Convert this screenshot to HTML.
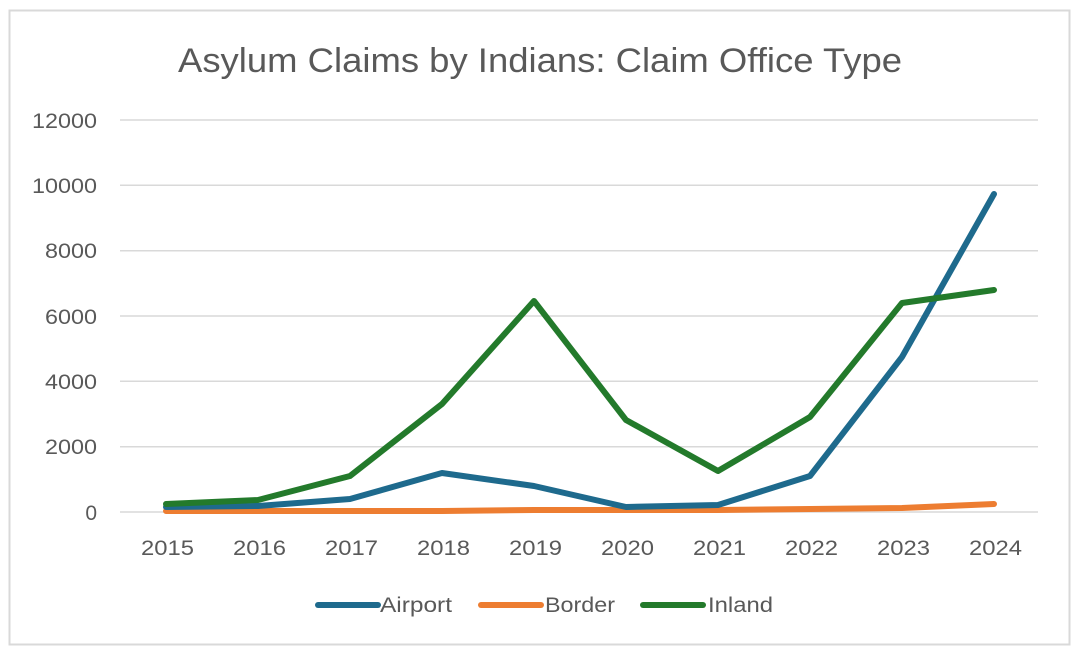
<!DOCTYPE html>
<html><head><meta charset="utf-8"><style>
body{margin:0;background:#fff;}
svg{display:block;font-family:"Liberation Sans",sans-serif;}
</style></head><body>
<svg width="1080" height="654" viewBox="0 0 1080 654">
<rect x="9.5" y="10.5" width="1060" height="634" fill="#fff" stroke="#d9d9d9" stroke-width="2"/>
<text x="178" y="72" font-size="34" fill="#595959" textLength="724" lengthAdjust="spacingAndGlyphs">Asylum Claims by Indians: Claim Office Type</text>
<g stroke="#d9d9d9" stroke-width="1.5">
<line x1="120" x2="1038" y1="120" y2="120"/>
<line x1="120" x2="1038" y1="185.3" y2="185.3"/>
<line x1="120" x2="1038" y1="250.7" y2="250.7"/>
<line x1="120" x2="1038" y1="316" y2="316"/>
<line x1="120" x2="1038" y1="381.3" y2="381.3"/>
<line x1="120" x2="1038" y1="446.7" y2="446.7"/>
<line x1="120" x2="1038" y1="512" y2="512"/>
</g>
<g font-size="21" fill="#595959" text-anchor="end">
<text x="97" y="128" textLength="65" lengthAdjust="spacingAndGlyphs">12000</text>
<text x="97" y="193" textLength="65" lengthAdjust="spacingAndGlyphs">10000</text>
<text x="97" y="258" textLength="52" lengthAdjust="spacingAndGlyphs">8000</text>
<text x="97" y="324" textLength="52" lengthAdjust="spacingAndGlyphs">6000</text>
<text x="97" y="389" textLength="52" lengthAdjust="spacingAndGlyphs">4000</text>
<text x="97" y="454" textLength="52" lengthAdjust="spacingAndGlyphs">2000</text>
<text x="97" y="520">0</text>
</g>
<g font-size="21" fill="#595959">
<text x="141" y="555" textLength="53" lengthAdjust="spacingAndGlyphs">2015</text>
<text x="233" y="555" textLength="53" lengthAdjust="spacingAndGlyphs">2016</text>
<text x="325" y="555" textLength="53" lengthAdjust="spacingAndGlyphs">2017</text>
<text x="417" y="555" textLength="53" lengthAdjust="spacingAndGlyphs">2018</text>
<text x="509" y="555" textLength="53" lengthAdjust="spacingAndGlyphs">2019</text>
<text x="601" y="555" textLength="53" lengthAdjust="spacingAndGlyphs">2020</text>
<text x="693" y="555" textLength="53" lengthAdjust="spacingAndGlyphs">2021</text>
<text x="785" y="555" textLength="53" lengthAdjust="spacingAndGlyphs">2022</text>
<text x="877" y="555" textLength="53" lengthAdjust="spacingAndGlyphs">2023</text>
<text x="969" y="555" textLength="53" lengthAdjust="spacingAndGlyphs">2024</text>
</g>
<g fill="none" stroke-width="6" stroke-linejoin="round" stroke-linecap="round">
<polyline stroke="#ed7d31" points="166,511 258,511 350,511 442,511 534,510 626,510 718,510 810,509 902,508 994,504"/>
<polyline stroke="#1e6a8d" points="166,507 258,506 350,499 442,473 534,486 626,507 718,505 810,476 902,357 994,194"/>
<polyline stroke="#237a2b" points="166,504 258,500 350,476 442,404 534,301 626,420 718,471 810,417 902,303 994,290"/>
</g>
<g stroke-width="6" stroke-linecap="round">
<line x1="318" x2="378" y1="605" y2="605" stroke="#1e6a8d"/>
<line x1="481" x2="541" y1="605" y2="605" stroke="#ed7d31"/>
<line x1="643" x2="703" y1="605" y2="605" stroke="#237a2b"/>
</g>
<g font-size="21" fill="#595959">
<text x="380" y="612" textLength="72" lengthAdjust="spacingAndGlyphs">Airport</text>
<text x="545" y="612" textLength="70" lengthAdjust="spacingAndGlyphs">Border</text>
<text x="708" y="612" textLength="65" lengthAdjust="spacingAndGlyphs">Inland</text>
</g>
</svg>
</body></html>
